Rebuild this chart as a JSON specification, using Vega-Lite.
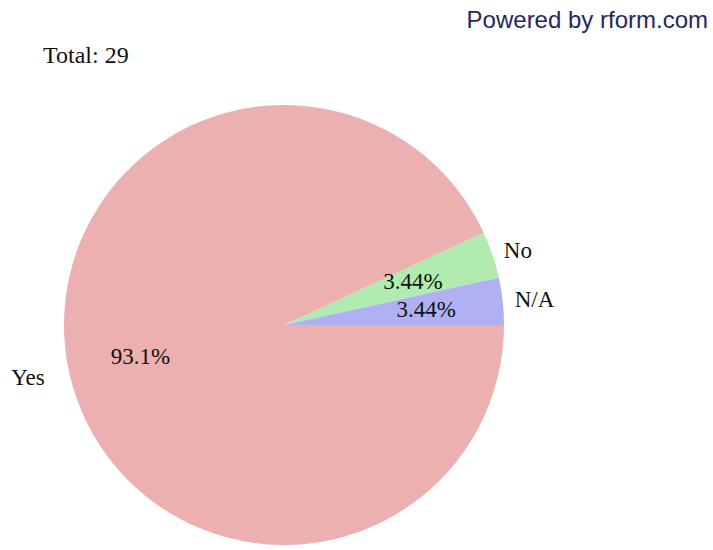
{
  "$schema": "https://vega.github.io/schema/vega-lite/v6.json",
  "width": 568,
  "height": 450,
  "autosize": {"type": "none"},
  "padding": {"left": 0, "top": 100, "right": 145, "bottom": 0},
  "background": "white",
  "view": {"stroke": null},
  "layer": [
    {
      "data": {"values": [
        {"answer": "No", "count": 1, "order": 1, "pct": "3.44%"},
        {"answer": "N/A", "count": 1, "order": 2, "pct": "3.44%"},
        {"answer": "Yes", "count": 27, "order": 3, "pct": "93.1%"}
      ]},
      "encoding": {
        "theta": {"field": "count", "type": "quantitative", "stack": true, "scale": {"range": [1.1375, 7.4207]}},
        "order": {"field": "order", "type": "quantitative"}
      },
      "layer": [
        {
          "mark": {"type": "arc", "outerRadius": 220},
          "encoding": {
            "color": {"field": "answer", "type": "nominal", "legend": null,
              "scale": {"domain": ["Yes", "No", "N/A"], "range": ["#ecb0b0", "#b0ecb0", "#b0b0f2"]}}
          }
        },
        {
          "mark": {"type": "text", "radius": 136, "font": "Liberation Serif", "fontSize": 23, "color": "#111111", "align": "center", "baseline": "middle"},
          "encoding": {"text": {"condition": {"test": "datum.answer === 'No'", "field": "pct"}, "value": ""}}
        },
        {
          "mark": {"type": "text", "radius": 143, "font": "Liberation Serif", "fontSize": 23, "color": "#111111", "align": "center", "baseline": "middle"},
          "encoding": {"text": {"condition": {"test": "datum.answer === 'N/A'", "field": "pct"}, "value": ""}}
        },
        {
          "mark": {"type": "text", "radius": 147, "font": "Liberation Serif", "fontSize": 23, "color": "#111111", "align": "center", "baseline": "middle"},
          "encoding": {"text": {"condition": {"test": "datum.answer === 'Yes'", "field": "pct"}, "value": ""}}
        },
        {
          "mark": {"type": "text", "radius": 232, "font": "Liberation Serif", "fontSize": 23, "color": "#111111", "align": "left", "baseline": "middle"},
          "encoding": {"text": {"condition": {"test": "datum.answer !== 'Yes'", "field": "answer"}, "value": ""}}
        },
        {
          "mark": {"type": "text", "radius": 245, "font": "Liberation Serif", "fontSize": 23, "color": "#111111", "align": "right", "baseline": "middle"},
          "encoding": {"text": {"condition": {"test": "datum.answer === 'Yes'", "field": "answer"}, "value": ""}}
        }
      ]
    },
    {
      "data": {"values": [{"t": "Total: 29"}]},
      "mark": {"type": "text", "x": 43, "y": -44, "font": "Liberation Serif", "fontSize": 24, "color": "#111111", "align": "left", "baseline": "middle"},
      "encoding": {"text": {"field": "t"}}
    },
    {
      "data": {"values": [{"t": "Powered by rform.com"}]},
      "mark": {"type": "text", "x": 708, "y": -72, "font": "Liberation Sans", "fontSize": 24, "color": "#262662", "align": "right", "baseline": "alphabetic"},
      "encoding": {"text": {"field": "t"}}
    }
  ]
}
